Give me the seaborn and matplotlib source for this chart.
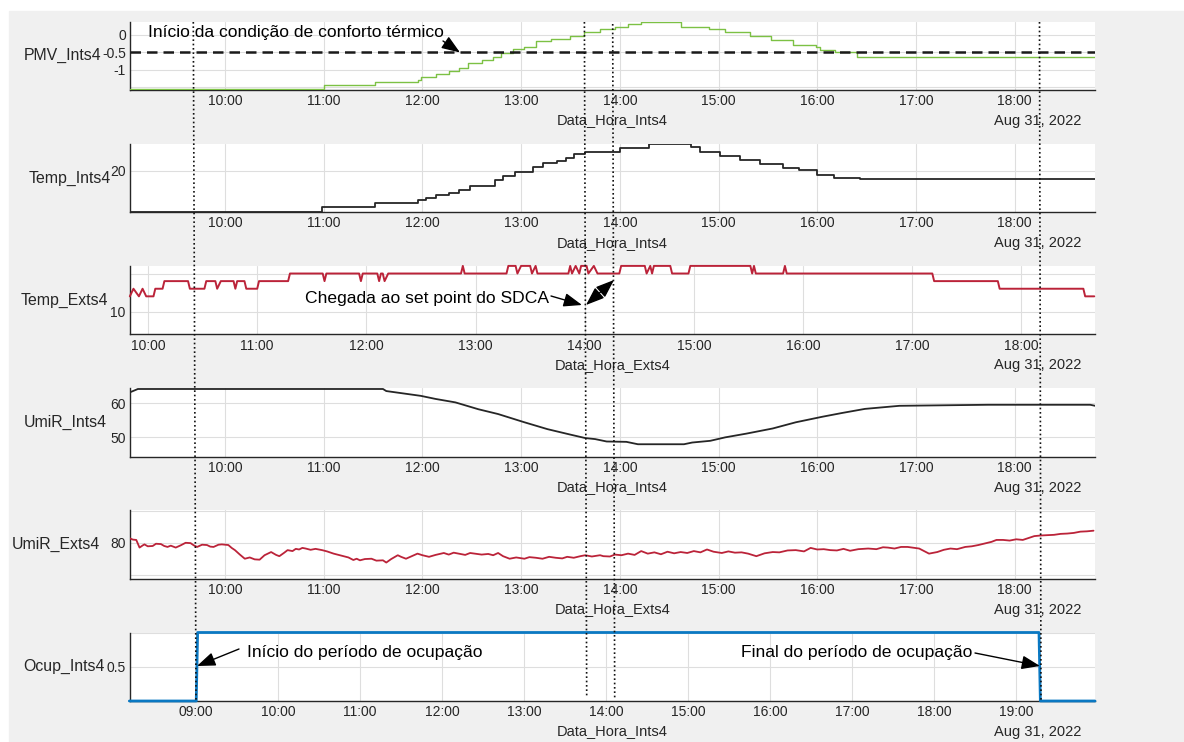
import pandas as pd
import matplotlib
matplotlib.use("Agg")
import matplotlib.pyplot as plt
import matplotlib.dates as mdates
from matplotlib.lines import Line2D
from matplotlib.patches import Rectangle, FancyArrowPatch
import seaborn as sns

DAY = "2022-08-31 "

# PMV_Ints4 (staircase, value holds until next time)
pmv_time = ["09:02", "11:00", "11:31", "11:57", "11:59", "12:08", "12:16", "12:22", "12:28",
            "12:36", "12:43", "12:48", "12:55", "13:02", "13:09", "13:18", "13:30", "13:38",
            "13:48", "13:57", "14:05", "14:13", "14:37", "14:54", "15:04", "15:19", "15:32",
            "15:45", "15:59", "16:02", "16:11", "16:24", "18:49"]
pmv_vals = [-1.57, -1.45, -1.35, -1.30, -1.22, -1.13, -1.03, -0.97, -0.82,
            -0.72, -0.63, -0.53, -0.41, -0.34, -0.19, -0.12, -0.03, 0.09,
            0.17, 0.23, 0.30, 0.37, 0.24, 0.165, 0.08, -0.02, -0.14,
            -0.29, -0.34, -0.45, -0.48, -0.63, -0.63]
pmv_comfort = -0.5

# Temp_Ints4 (staircase)
tin_time = ["09:02", "10:59", "11:31", "11:57", "12:02", "12:08", "12:16", "12:22", "12:29",
            "12:44", "12:49", "12:56", "13:07", "13:13", "13:22", "13:27", "13:32", "13:39",
            "14:00", "14:18", "14:43", "14:49", "15:01", "15:13", "15:25", "15:39", "15:49",
            "16:00", "16:10", "16:26", "18:49"]
tin_vals = [16.0, 16.5, 16.83, 17.14, 17.37, 17.59, 17.85, 18.10, 18.54,
            19.11, 19.43, 19.90, 20.38, 20.70, 20.95, 21.18, 21.59, 21.75,
            22.16, 22.55, 22.26, 21.78, 21.4, 21.02, 20.64, 20.26, 20.07,
            19.59, 19.30, 19.21, 19.21]

# Temp_Exts4
tex_time = ["09:50", "09:52", "09:55", "09:57", "09:59", "10:03", "10:04", "10:08", "10:09",
            "10:22", "10:23", "10:31", "10:32", "10:37", "10:38", "10:40", "10:47", "10:48",
            "10:49", "10:53", "10:54", "11:00", "11:01", "11:17", "11:18", "11:36", "11:37",
            "11:38", "11:56", "11:57", "11:58", "12:06", "12:07", "12:08", "12:09", "12:10",
            "12:12", "12:52", "12:53", "12:54", "13:17", "13:18", "13:22", "13:23", "13:25",
            "13:30", "13:31", "13:33", "13:34", "13:51", "13:52", "13:53", "13:55", "13:57",
            "13:58", "14:01", "14:02", "14:05", "14:07", "14:19", "14:20", "14:33", "14:34",
            "14:36", "14:37", "14:38", "14:47", "14:48", "14:57", "14:58", "15:31", "15:32",
            "15:33", "15:34", "15:49", "15:50", "15:51", "17:11", "17:12", "17:47", "17:48",
            "18:34", "18:35", "18:40"]
tex_vals = [12, 13, 12, 13, 12, 12, 13, 13, 14,
            14, 13, 13, 14, 14, 13, 14, 14, 13,
            14, 14, 13, 13, 14, 14, 15, 15, 14,
            15, 15, 14, 15, 15, 14, 15, 15, 14,
            15, 15, 16, 15, 15, 16, 16, 15, 16,
            16, 15, 16, 15, 15, 16, 15, 16, 15,
            16, 16, 15, 16, 15, 15, 16, 16, 15,
            16, 15, 16, 16, 15, 15, 16, 16, 15,
            16, 15, 15, 16, 15, 15, 14, 14, 13,
            13, 12, 12]

# UmiR_Ints4
uin_time = ["09:02", "09:07", "11:36", "11:38", "11:41", "11:59", "12:08", "12:20", "12:34",
            "12:46", "13:02", "13:16", "13:30", "13:39", "13:45", "13:52", "14:04", "14:11",
            "14:39", "14:44", "14:55", "15:04", "15:17", "15:33", "15:47", "16:03", "16:15",
            "16:29", "16:50", "17:44", "18:46", "18:49"]
uin_vals = [63.1, 64.1, 64.1, 63.5, 63.3, 62.1, 61.2, 60.2, 58.2,
            56.8, 54.4, 52.4, 50.8, 49.8, 49.5, 48.8, 48.7, 48.0,
            48.0, 48.5, 49.0, 50.0, 51.1, 52.6, 54.4, 56.0, 57.1,
            58.3, 59.2, 59.5, 59.5, 59.2]

# UmiR_Exts4
uex_time = ["09:02", "09:04", "09:06", "09:08", "09:10", "09:11", "09:13", "09:16", "09:18",
            "09:21", "09:23", "09:25", "09:27", "09:30", "09:33", "09:36", "09:39", "09:41",
            "09:43", "09:46", "09:49", "09:51", "09:53", "09:56", "09:58", "10:02", "10:04",
            "10:06", "10:09", "10:12", "10:15", "10:18", "10:21", "10:24", "10:26", "10:28",
            "10:31", "10:33", "10:36", "10:38", "10:41", "10:43", "10:45", "10:47", "10:49",
            "10:52", "10:55", "10:59", "11:02", "11:06", "11:09", "11:12", "11:15", "11:18",
            "11:20", "11:22", "11:25", "11:29", "11:32", "11:36", "11:38", "11:41", "11:45",
            "11:47", "11:50", "11:53", "11:57", "12:00", "12:04", "12:08", "12:13", "12:16",
            "12:19", "12:22", "12:26", "12:29", "12:32", "12:36", "12:40", "12:43", "12:46",
            "12:49", "12:53", "12:57", "13:02", "13:05", "13:09", "13:13", "13:17", "13:21",
            "13:25", "13:28", "13:32", "13:36", "13:39", "13:43", "13:48", "13:50", "13:54",
            "13:57", "14:01", "14:05", "14:09", "14:13", "14:17", "14:21", "14:25", "14:29",
            "14:33", "14:37", "14:41", "14:45", "14:49", "14:53", "14:57", "15:02", "15:06",
            "15:10", "15:14", "15:18", "15:23", "15:28", "15:33", "15:37", "15:42", "15:47",
            "15:52", "15:56", "16:00", "16:04", "16:08", "16:12", "16:16", "16:20", "16:25",
            "16:31", "16:36", "16:40", "16:43", "16:47", "16:51", "16:55", "16:59", "17:02",
            "17:05", "17:08", "17:13", "17:17", "17:21", "17:25", "17:30", "17:34", "17:38",
            "17:42", "17:46", "17:49", "17:53", "17:57", "18:01", "18:05", "18:09", "18:12",
            "18:16", "18:20", "18:24", "18:28", "18:32", "18:36", "18:40", "18:44", "18:48"]
uex_vals = [81.4, 81.0, 80.9, 78.5, 79.2, 79.5, 78.9, 79.0, 79.7,
            79.6, 79.0, 78.7, 79.1, 78.5, 79.2, 80.0, 79.9, 79.2,
            78.7, 79.4, 79.3, 78.8, 78.7, 79.4, 79.5, 79.3, 78.4,
            77.7, 76.3, 75.0, 75.4, 74.8, 74.7, 76.1, 76.6, 77.1,
            76.2, 75.8, 76.9, 77.7, 77.4, 78.1, 77.9, 78.4, 78.2,
            77.8, 78.1, 77.7, 77.3, 76.6, 76.2, 75.8, 75.4, 74.6,
            75.0, 74.5, 74.9, 75.0, 74.4, 74.5, 73.8, 74.9, 76.1,
            75.6, 75.0, 75.7, 76.6, 76.1, 75.6, 76.2, 76.8, 76.3,
            76.9, 76.6, 76.2, 76.8, 76.6, 76.3, 76.5, 76.1, 76.8,
            75.8, 75.0, 75.4, 75.0, 75.5, 75.3, 75.0, 75.6, 75.3,
            75.1, 75.6, 75.3, 75.8, 76.1, 75.7, 76.1, 75.8, 75.7,
            76.3, 76.1, 76.6, 76.2, 77.4, 76.6, 77.0, 76.4, 77.2,
            76.7, 77.1, 76.8, 77.4, 77.0, 77.9, 77.2, 76.8, 77.3,
            76.9, 77.0, 76.6, 75.8, 76.7, 77.1, 77.0, 77.6, 77.7,
            77.3, 78.4, 77.9, 78.0, 77.7, 77.6, 78.1, 77.5, 78.0,
            78.2, 78.0, 78.6, 78.5, 78.2, 78.7, 78.7, 78.4, 78.2,
            77.4, 76.6, 77.1, 77.8, 78.2, 78.0, 78.7, 78.9, 79.3,
            79.8, 80.3, 80.9, 80.9, 80.7, 81.1, 80.9, 81.6, 82.1,
            82.3, 82.4, 82.5, 82.8, 82.9, 83.1, 83.5, 83.6, 83.8]

# Ocup_Ints4
ocu_time = ["08:11", "09:00", "09:01", "19:17", "19:18", "19:58"]
ocu_vals = [0, 0, 1, 1, 0, 0]

GREEN = "#7cc144"
CRIMSON = "#bb2339"
DARK = "#262626"
BLUE = "#0a78c2"

panels = [
    dict(t=pmv_time, v=pmv_vals, color=GREEN, lw=1.0, ds="steps-post",
         xlim=("09:02:12", "18:48:54"), ylim=(-1.59, 0.385),
         yticks=[-1.5, -1, -0.5, 0], yticklabels=["", "-1", "-0.5", "0"],
         name="PMV_Ints4", lab_x=101, xlabel="Data_Hora_Ints4"),
    dict(t=tin_time, v=tin_vals, color=DARK, lw=1.3, ds="steps-post",
         xlim=("09:02:12", "18:48:54"), ylim=(15.97, 22.6),
         yticks=[20], yticklabels=["20"],
         name="Temp_Ints4", lab_x=111, xlabel="Data_Hora_Ints4"),
    dict(t=tex_time, v=tex_vals, color=CRIMSON, lw=1.4, ds="default",
         xlim=("09:50:06", "18:40:24"), ylim=(7.0, 16.0),
         yticks=[10, 15], yticklabels=["10", ""],
         name="Temp_Exts4", lab_x=108, xlabel="Data_Hora_Exts4"),
    dict(t=uin_time, v=uin_vals, color=DARK, lw=1.3, ds="default",
         xlim=("09:02:12", "18:48:54"), ylim=(44.4, 64.36),
         yticks=[50, 60], yticklabels=["50", "60"],
         name="UmiR_Ints4", lab_x=107, xlabel="Data_Hora_Ints4"),
    dict(t=uex_time, v=uex_vals, color=CRIMSON, lw=1.3, ds="default",
         xlim=("09:02:12", "18:48:54"), ylim=(68.7, 90.2),
         yticks=[70, 80, 90], yticklabels=["", "80", ""],
         name="UmiR_Exts4", lab_x=100, xlabel="Data_Hora_Exts4"),
    dict(t=ocu_time, v=ocu_vals, color=BLUE, lw=2.0, ds="default",
         xlim=("08:11:30", "19:58:00"), ylim=(0, 1),
         yticks=[0, 0.5, 1], yticklabels=["", "0.5", ""],
         name="Ocup_Ints4", lab_x=105, xlabel="Data_Hora_Ints4"),
]

sns.set_style("white")
plt.rcParams["font.family"] = ["Liberation Sans", "DejaVu Sans"]

W, H = 1184, 742
fig = plt.figure(figsize=(W / 100, H / 100), dpi=100)


def fp(x, y):
    # pixel position (from top-left) -> figure fraction
    return x / W, 1 - y / H


fig.patches.append(Rectangle(fp(9, 742), 1 - 9 / W, (742 - 11) / H,
                             transform=fig.transFigure, color="#f0f0f0", zorder=-10))

LEFT, RIGHT, PH = 130, 1095, 68.5
for i, p in enumerate(panels):
    top = 21.5 + i * 122.2
    x0, y0 = fp(LEFT, top + PH)
    ax = fig.add_axes([x0, y0, (RIGHT - LEFT) / W, PH / H])
    df = pd.DataFrame({"t": pd.to_datetime([DAY + s for s in p["t"]]), "v": p["v"]})
    sns.lineplot(data=df, x="t", y="v", ax=ax, color=p["color"], lw=p["lw"],
                 drawstyle=p["ds"], estimator=None, zorder=3)
    ax.set_xlim(pd.Timestamp(DAY + p["xlim"][0]), pd.Timestamp(DAY + p["xlim"][1]))
    ax.set_ylim(*p["ylim"])
    ax.set_yticks(p["yticks"])
    ax.set_yticklabels(p["yticklabels"])
    ax.xaxis.set_major_locator(mdates.HourLocator())
    ax.xaxis.set_major_formatter(mdates.DateFormatter("%H:%M"))
    ax.grid(True, color="#dedede", lw=0.8)
    ax.set_axisbelow(True)
    for s in ["top", "right"]:
        ax.spines[s].set_visible(False)
    for s in ["left", "bottom"]:
        ax.spines[s].set_color(DARK)
        ax.spines[s].set_linewidth(1.0)
    ax.tick_params(axis="both", direction="in", length=6.5, width=1.0, color=DARK,
                   labelsize=10, labelcolor=DARK, pad=3)
    ax.set_xlabel(p["xlabel"], fontsize=10.5, color=DARK)
    ax.xaxis.set_label_coords(0.5, -23.5 / PH)
    ax.set_ylabel(p["name"], fontsize=11.4, color=DARK, rotation=0, ha="right", va="center")
    ax.yaxis.set_label_coords((p["lab_x"] - LEFT) / (RIGHT - LEFT), 0.5)
    ax.text(1 - 14 / (RIGHT - LEFT), -31 / PH, "Aug 31, 2022", transform=ax.transAxes,
            ha="right", va="center", fontsize=10.5, color=DARK)
    if i == 0:
        ax.axhline(pmv_comfort, color="#1a1a1a", lw=1.8, ls=(0, (4.2, 2.4)), zorder=4)
    if i in (2, 5):
        for ln in ax.lines:
            ln.set_clip_on(False)

# vertical dotted markers across all panels
for (xa, ya), (xb, yb) in [((193.3, 22), (196, 700)), ((584.4, 22), (586.7, 696)),
                           ((612.7, 24), (614.7, 698)), ((1039.5, 22), (1041, 700))]:
    fig.add_artist(Line2D([fp(xa, ya)[0], fp(xb, yb)[0]], [fp(xa, ya)[1], fp(xb, yb)[1]],
                          transform=fig.transFigure, color="#111111", lw=1.2,
                          ls=(0, (1, 1.6)), zorder=10))


def arrow(tail, tip, style="-|>"):
    fig.add_artist(FancyArrowPatch(fp(*tail), fp(*tip), transform=fig.transFigure,
                                   arrowstyle=style + ",head_length=0.8,head_width=0.3",
                                   mutation_scale=14, color="black", lw=1.0,
                                   shrinkA=0, shrinkB=0, zorder=11))


def label(x, y, s, ha="left"):
    fig.text(*fp(x, y), s, ha=ha, va="center", fontsize=12.6, color="black", zorder=11)


label(148, 33, "Início da condição de conforto térmico")
arrow((443, 41), (460, 52.5))
label(549, 298, "Chegada ao set point do SDCA", ha="right")
arrow((551, 296), (582, 305))
arrow((586, 305), (614, 280), style="<|-|>")
label(247, 653, "Início do período de ocupação")
arrow((239, 649), (197, 666))
label(741, 653, "Final do período de ocupação")
arrow((975, 653), (1040, 666))

fig.savefig("out.png", dpi=100)
